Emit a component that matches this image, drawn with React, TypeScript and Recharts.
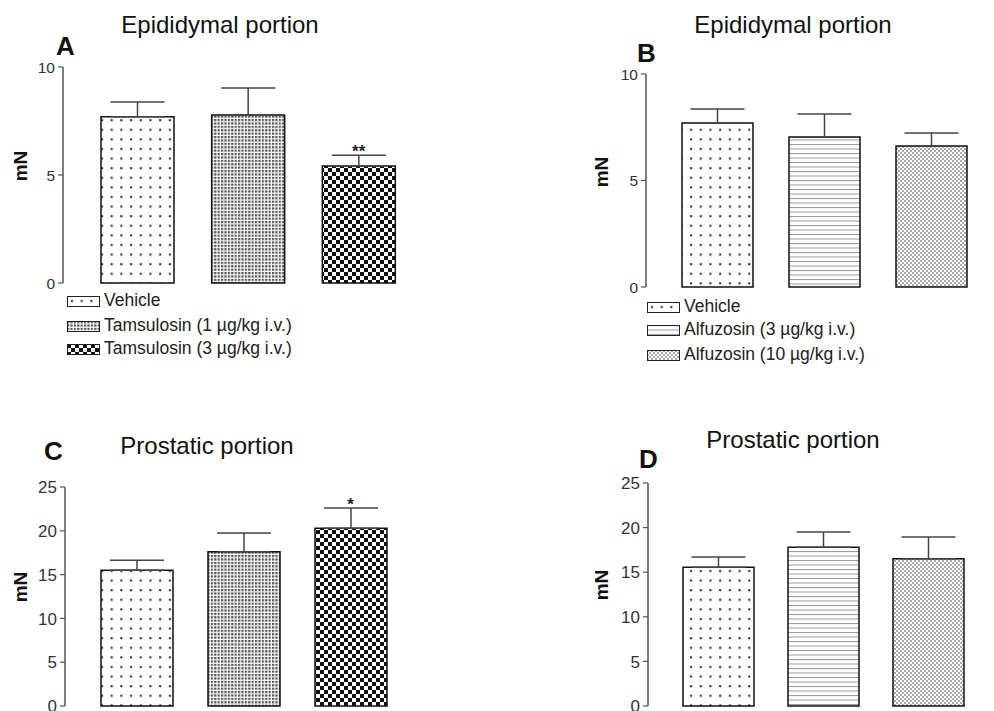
import React from "react"
import {
    Bar,
    Cell,
    ComposedChart,
    ErrorBar,
    Scatter,
    XAxis,
    YAxis,
} from "recharts"

// groups
const tamsulosinGroups = ["Vehicle", "Tamsulosin (1 µg/kg i.v.)", "Tamsulosin (3 µg/kg i.v.)"]
const alfuzosinGroups = ["Vehicle", "Alfuzosin (3 µg/kg i.v.)", "Alfuzosin (10 µg/kg i.v.)"]

// A - epididymal, tamsulosin
const meanA = [7.7, 7.78, 5.42]
const semA = [0.68, 1.25, 0.5]
const sigA = ["", "", "**"]

// B - epididymal, alfuzosin
const meanB = [7.7, 7.04, 6.62]
const semB = [0.66, 1.08, 0.61]
const sigB = ["", "", ""]

// C - prostatic, tamsulosin
const meanC = [15.5, 17.6, 20.3]
const semC = [1.15, 2.15, 2.3]
const sigC = ["", "", "*"]

// D - prostatic, alfuzosin
const meanD = [15.55, 17.8, 16.5]
const semD = [1.15, 1.7, 2.45]
const sigD = ["", "", ""]

const ticksEpi = [0, 5, 10]
const ticksPro = [0, 5, 10, 15, 20, 25]

const FONT = '"Liberation Sans", Arial, Helvetica, sans-serif'
const tamFills = ["url(#pDots)", "url(#pGrid)", "url(#pChecker)"]
const alfFills = ["url(#pDots)", "url(#pLines)", "url(#pFine)"]

const buildRows = (groups: string[], mean: number[], sem: number[], sig: string[]) =>
    groups.map((g, i) => ({
        name: g,
        mean: mean[i],
        err: [0, sem[i]],
        top: mean[i] + sem[i],
        sig: sig[i],
    }))

function Patterns() {
    return (
        <svg width={0} height={0} style={{ position: "absolute" }}>
            <defs>
                <pattern id="pDots" width={9.7} height={9.6} patternUnits="userSpaceOnUse">
                    <rect width={9.7} height={9.6} fill="#fff" />
                    <rect x={4} y={4} width={2} height={2} fill="#222" />
                </pattern>
                <pattern id="pGrid" width={3.4} height={3.4} patternUnits="userSpaceOnUse">
                    <rect width={3.4} height={3.4} fill="#fff" />
                    <rect x={0} y={0} width={2.2} height={2.2} fill="#555" />
                </pattern>
                <pattern id="pChecker" width={8} height={8} patternUnits="userSpaceOnUse">
                    <rect width={8} height={8} fill="#fff" />
                    <rect x={0} y={0} width={4} height={4} fill="#111" />
                    <rect x={4} y={4} width={4} height={4} fill="#111" />
                </pattern>
                <pattern id="pLines" width={5} height={4.5} patternUnits="userSpaceOnUse">
                    <rect width={5} height={4.5} fill="#fff" />
                    <rect x={0} y={0} width={5} height={1} fill="#999" />
                </pattern>
                <pattern id="pFine" width={4} height={4} patternUnits="userSpaceOnUse">
                    <rect width={4} height={4} fill="#fff" />
                    <rect x={0} y={0} width={2} height={2} fill="#aaa" />
                    <rect x={2} y={2} width={2} height={2} fill="#aaa" />
                </pattern>
            </defs>
        </svg>
    )
}

// y tick labels, drawn at the position recharts gives
const YTick = (p: any) => (
    <text x={p.x} y={p.y} dy={p.fs * 0.36} textAnchor="end" fontSize={p.fs} fontFamily={FONT} fill="#333">
        {p.payload.value}
    </text>
)

interface PanelProps {
    rows: any[]
    fills: string[]
    ticks: number[]
    left: number
    top: number
    width: number
    height: number
    axisW: number
    margin: { top: number; right: number; bottom: number; left: number }
    pad: { left: number; right: number }
    barSize: number
    tickFs: number
}

function Panel({ rows, fills, ticks, left, top, width, height, axisW, margin, pad, barSize, tickFs }: PanelProps) {
    return (
        <div style={{ position: "absolute", left, top }}>
            <ComposedChart width={width} height={height} data={rows} margin={margin}>
                <XAxis
                    dataKey="name"
                    tick={false}
                    tickLine={false}
                    height={0}
                    padding={pad}
                    axisLine={{ stroke: "#555", strokeWidth: 1.5 }}
                />
                <YAxis
                    width={axisW}
                    domain={[0, ticks[ticks.length - 1]]}
                    ticks={ticks}
                    interval={0}
                    tickSize={5}
                    tickMargin={3}
                    axisLine={{ stroke: "#555", strokeWidth: 1.5 }}
                    tickLine={{ stroke: "#555", strokeWidth: 1.2 }}
                    tick={(p: any) => <YTick {...p} fs={tickFs} />}
                />
                <Bar dataKey="mean" barSize={barSize} stroke="#111" strokeWidth={1.5} isAnimationActive={false}>
                    {rows.map((r, i) => (
                        <Cell key={r.name} fill={fills[i]} />
                    ))}
                    <ErrorBar dataKey="err" direction="y" width={27} stroke="#444" strokeWidth={1.5} />
                </Bar>
                <Scatter
                    dataKey="top"
                    isAnimationActive={false}
                    shape={(p: any) => (
                        <text
                            x={p.cx}
                            y={p.cy + 2}
                            textAnchor="middle"
                            fontSize={17}
                            fontWeight="bold"
                            fontFamily={FONT}
                            fill="#222"
                        >
                            {p.payload.sig}
                        </text>
                    )}
                />
            </ComposedChart>
        </div>
    )
}

const LEG_FS = 17.5

function Legend({ labels, fills, left, baselines }: { labels: string[]; fills: string[]; left: number; baselines: number[] }) {
    return (
        <>
            {labels.map((label, i) => (
                <div key={label} style={{ position: "absolute", left, top: baselines[i] - 11, height: 11, display: "flex" }}>
                    <svg width={33} height={11} style={{ display: "block" }}>
                        <rect x={0.5} y={0.5} width={32} height={10} fill={fills[i]} stroke="#222" strokeWidth={1} />
                    </svg>
                    <span
                        style={{
                            position: "absolute",
                            left: 37,
                            top: 11 - 0.8465 * LEG_FS,
                            fontSize: LEG_FS,
                            lineHeight: 1,
                            whiteSpace: "nowrap",
                            color: "#222",
                        }}
                    >
                        {label}
                    </span>
                </div>
            ))}
        </>
    )
}

function Text({ x, baseline, size, bold, center, children }: any) {
    const style: React.CSSProperties = {
        position: "absolute",
        top: baseline - 0.8465 * size,
        fontSize: size,
        lineHeight: 1,
        fontWeight: bold ? "bold" : "normal",
        whiteSpace: "nowrap",
        color: "#111",
    }
    if (center) {
        style.left = x - 200
        style.width = 400
        style.textAlign = "center"
    } else {
        style.left = x
    }
    return <div style={style}>{children}</div>
}

function AxisTitle({ cx, cy }: { cx: number; cy: number }) {
    return (
        <div
            style={{
                position: "absolute",
                left: cx - 30,
                top: cy - 11,
                width: 60,
                height: 22,
                lineHeight: "22px",
                textAlign: "center",
                fontSize: 19,
                fontWeight: "bold",
                transform: "rotate(-90deg)",
                color: "#111",
            }}
        >
            mN
        </div>
    )
}

export default function App() {
    const rowsA = buildRows(tamsulosinGroups, meanA, semA, sigA)
    const rowsB = buildRows(alfuzosinGroups, meanB, semB, sigB)
    const rowsC = buildRows(tamsulosinGroups, meanC, semC, sigC)
    const rowsD = buildRows(alfuzosinGroups, meanD, semD, sigD)

    return (
        <div
            style={{
                position: "absolute",
                left: 0,
                top: 0,
                width: 994,
                height: 711,
                overflow: "hidden",
                background: "#fff",
                fontFamily: FONT,
            }}
        >
            <Patterns />

            {/* A */}
            <Text x={220} baseline={33} size={24} center>Epididymal portion</Text>
            <Text x={56} baseline={55} size={26} bold>A</Text>
            <AxisTitle cx={21} cy={166} />
            <Panel
                rows={rowsA}
                fills={tamFills}
                ticks={ticksEpi}
                left={0}
                top={0}
                width={435}
                height={295}
                axisW={63}
                margin={{ top: 67, right: 2, bottom: 12, left: 0 }}
                pad={{ left: 19, right: 19 }}
                barSize={73}
                tickFs={15.5}
            />
            <Legend labels={tamsulosinGroups} fills={tamFills} left={67} baselines={[307, 332, 355]} />

            {/* B */}
            <Text x={793} baseline={33} size={24} center>Epididymal portion</Text>
            <Text x={637} baseline={62} size={26} bold>B</Text>
            <AxisTitle cx={602} cy={172} />
            <Panel
                rows={rowsB}
                fills={alfFills}
                ticks={ticksEpi}
                left={560}
                top={0}
                width={434}
                height={299}
                axisW={86}
                margin={{ top: 74, right: 2, bottom: 12, left: 0 }}
                pad={{ left: 18, right: 7 }}
                barSize={71}
                tickFs={15.5}
            />
            <Legend labels={alfuzosinGroups} fills={alfFills} left={647} baselines={[313, 336, 361]} />

            {/* C */}
            <Text x={207} baseline={454} size={24} center>Prostatic portion</Text>
            <Text x={44} baseline={460} size={26} bold>C</Text>
            <AxisTitle cx={21} cy={587} />
            <Panel
                rows={rowsC}
                fills={tamFills}
                ticks={ticksPro}
                left={0}
                top={470}
                width={424}
                height={248}
                axisW={65}
                margin={{ top: 17, right: 2, bottom: 12, left: 0 }}
                pad={{ left: 18, right: 18 }}
                barSize={72}
                tickFs={17}
            />

            {/* D */}
            <Text x={793} baseline={448} size={24} center>Prostatic portion</Text>
            <Text x={639} baseline={468} size={26} bold>D</Text>
            <AxisTitle cx={602} cy={585} />
            <Panel
                rows={rowsD}
                fills={alfFills}
                ticks={ticksPro}
                left={560}
                top={470}
                width={434}
                height={248}
                axisW={88}
                margin={{ top: 13, right: 0, bottom: 12, left: 0 }}
                pad={{ left: 18, right: 13 }}
                barSize={71}
                tickFs={17}
            />
        </div>
    )
}
